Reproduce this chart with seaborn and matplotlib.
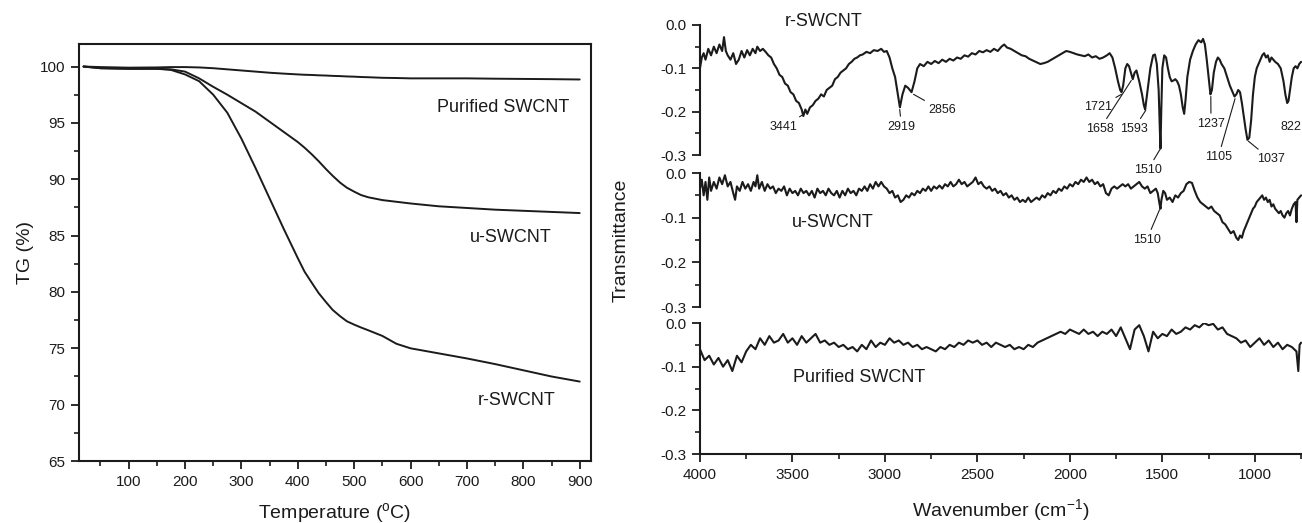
"""TGA curves (left) and stacked FTIR spectra (right) for the SWCNT samples."""
import matplotlib

matplotlib.use("Agg")

import matplotlib.pyplot as plt  # noqa: E402
import seaborn as sns  # noqa: E402
from matplotlib.ticker import FormatStrFormatter, MultipleLocator  # noqa: E402

# ---------------------------------------------------------------------------
# TGA data
# ---------------------------------------------------------------------------
temp_c = [20, 50, 100, 150, 175, 200, 225, 250, 275, 300, 325, 350, 375, 400,
          412, 425, 437, 450, 462, 475, 487, 500, 512, 525, 550, 575, 600,
          650, 700, 750, 800, 850, 900]
tg_purified = [100.0, 99.95, 99.9, 99.92, 99.95, 99.95, 99.92, 99.85, 99.75,
               99.65, 99.55, 99.45, 99.37, 99.3, 99.27, 99.25, 99.22, 99.2,
               99.17, 99.15, 99.12, 99.1, 99.07, 99.05, 99.0, 98.98, 98.95,
               98.95, 98.95, 98.92, 98.9, 98.88, 98.85]
tg_u = [100.0, 99.85, 99.8, 99.8, 99.75, 99.55, 98.95, 98.2, 97.5, 96.75,
        96.0, 95.1, 94.2, 93.3, 92.8, 92.2, 91.6, 90.9, 90.3, 89.7, 89.25,
        88.9, 88.6, 88.4, 88.15, 88.0, 87.85, 87.6, 87.45, 87.3, 87.2, 87.1,
        87.0]
tg_r = [100.0, 99.85, 99.8, 99.8, 99.7, 99.3, 98.7, 97.5, 95.9, 93.6, 91.0,
        88.3, 85.6, 83.0, 81.8, 80.8, 79.9, 79.1, 78.4, 77.85, 77.4, 77.1,
        76.85, 76.6, 76.1, 75.4, 75.0, 74.55, 74.1, 73.6, 73.05, 72.5, 72.05]

# ---------------------------------------------------------------------------
# FTIR data
# ---------------------------------------------------------------------------
r_wn = [4000, 3990, 3980, 3970, 3955, 3940, 3925, 3910, 3895, 3880, 3870, 3860,
        3850, 3835, 3820, 3805, 3790, 3775, 3760, 3745, 3730, 3715, 3700, 3690,
        3675, 3660, 3645, 3630, 3615, 3600, 3585, 3570, 3555, 3540, 3525, 3510,
        3495, 3480, 3465, 3450, 3441, 3430, 3420, 3405, 3390, 3375, 3360, 3345,
        3330, 3315, 3300, 3285, 3270, 3255, 3240, 3225, 3210, 3195, 3180, 3165,
        3150, 3135, 3120, 3100, 3080, 3060, 3040, 3020, 3005, 2990, 2975, 2960,
        2945, 2930, 2919, 2905, 2890, 2875, 2856, 2840, 2825, 2810, 2790, 2770,
        2750, 2730, 2710, 2690, 2670, 2650, 2630, 2610, 2590, 2570, 2550, 2530,
        2510, 2490, 2470, 2450, 2430, 2410, 2390, 2370, 2355, 2340, 2320, 2300,
        2280, 2260, 2240, 2220, 2200, 2180, 2160, 2140, 2120, 2100, 2080, 2060,
        2040, 2020, 2000, 1980, 1960, 1940, 1920, 1900, 1880, 1860, 1840, 1820,
        1800, 1785, 1770, 1755, 1740, 1728, 1721, 1712, 1700, 1690, 1680, 1670,
        1660, 1650, 1640, 1625, 1610, 1600, 1593, 1580, 1565, 1550, 1540, 1530,
        1520, 1513, 1510, 1506, 1500, 1490, 1480, 1470, 1460, 1450, 1440, 1430,
        1420, 1410, 1400, 1390, 1382, 1374, 1365, 1350, 1335, 1320, 1305, 1290,
        1280, 1270, 1260, 1250, 1240, 1232, 1222, 1210, 1200, 1190, 1180, 1165,
        1150, 1135, 1120, 1110, 1100, 1090, 1080, 1070, 1060, 1050, 1040, 1030,
        1020, 1010, 1000, 990, 980, 970, 960, 950, 940, 930, 920, 910, 900, 890,
        875, 860, 845, 835, 825, 818, 810, 800, 790, 780, 770, 760, 750]
r_val = [-0.10, -0.075, -0.065, -0.08, -0.055, -0.07, -0.05, -0.065, -0.045,
         -0.06, -0.028, -0.06, -0.07, -0.08, -0.065, -0.09, -0.08, -0.06,
         -0.075, -0.058, -0.07, -0.055, -0.065, -0.05, -0.06, -0.055, -0.062,
         -0.07, -0.075, -0.09, -0.10, -0.115, -0.12, -0.135, -0.14, -0.155,
         -0.16, -0.175, -0.18, -0.195, -0.21, -0.195, -0.205, -0.19, -0.185,
         -0.175, -0.17, -0.16, -0.165, -0.15, -0.145, -0.14, -0.125, -0.12,
         -0.11, -0.105, -0.10, -0.09, -0.085, -0.078, -0.075, -0.07, -0.068,
         -0.062, -0.065, -0.058, -0.06, -0.055, -0.062, -0.06, -0.075, -0.10,
         -0.12, -0.16, -0.19, -0.16, -0.14, -0.145, -0.155, -0.13, -0.10,
         -0.09, -0.095, -0.085, -0.09, -0.083, -0.088, -0.08, -0.085, -0.078,
         -0.082, -0.075, -0.078, -0.07, -0.073, -0.065, -0.068, -0.06, -0.063,
         -0.058, -0.062, -0.055, -0.06, -0.05, -0.045, -0.052, -0.055, -0.06,
         -0.065, -0.07, -0.072, -0.078, -0.082, -0.086, -0.09, -0.088, -0.085,
         -0.08, -0.075, -0.07, -0.065, -0.06, -0.062, -0.065, -0.068, -0.07,
         -0.072, -0.068, -0.075, -0.072, -0.078, -0.075, -0.07, -0.065, -0.075,
         -0.10, -0.13, -0.15, -0.155, -0.14, -0.10, -0.09, -0.095, -0.11,
         -0.125, -0.11, -0.105, -0.13, -0.16, -0.185, -0.195, -0.15, -0.10,
         -0.07, -0.068, -0.09, -0.15, -0.25, -0.285, -0.20, -0.10, -0.07,
         -0.075, -0.10, -0.12, -0.13, -0.128, -0.125, -0.13, -0.14, -0.16,
         -0.19, -0.205, -0.17, -0.12, -0.08, -0.06, -0.045, -0.035, -0.04,
         -0.032, -0.045, -0.08, -0.12, -0.16, -0.15, -0.11, -0.085, -0.075,
         -0.08, -0.09, -0.10, -0.12, -0.14, -0.155, -0.165, -0.16, -0.15,
         -0.155, -0.18, -0.21, -0.24, -0.265, -0.26, -0.22, -0.16, -0.12,
         -0.10, -0.09, -0.08, -0.07, -0.065, -0.075, -0.07, -0.085, -0.075,
         -0.08, -0.085, -0.09, -0.10, -0.13, -0.16, -0.18, -0.175, -0.15,
         -0.12, -0.10, -0.095, -0.10, -0.09, -0.085]

u_wn = [4000, 3990, 3980, 3970, 3960, 3950, 3940, 3925, 3910, 3895, 3880, 3865,
        3850, 3835, 3820, 3810, 3800, 3785, 3770, 3755, 3740, 3725, 3710, 3700,
        3690, 3680, 3665, 3650, 3635, 3620, 3605, 3590, 3575, 3560, 3545, 3530,
        3515, 3500, 3485, 3470, 3455, 3440, 3425, 3410, 3395, 3380, 3365, 3350,
        3335, 3320, 3305, 3290, 3275, 3260, 3245, 3230, 3215, 3200, 3185, 3170,
        3155, 3140, 3125, 3110, 3095, 3080, 3065, 3050, 3035, 3020, 3005, 2990,
        2975, 2960, 2945, 2930, 2915, 2900, 2885, 2870, 2855, 2840, 2825, 2810,
        2795, 2780, 2765, 2750, 2735, 2720, 2705, 2690, 2675, 2660, 2645, 2630,
        2615, 2600, 2585, 2570, 2555, 2540, 2525, 2510, 2495, 2480, 2465, 2450,
        2435, 2420, 2405, 2390, 2375, 2360, 2345, 2330, 2315, 2300, 2285, 2270,
        2255, 2240, 2225, 2210, 2195, 2180, 2165, 2150, 2135, 2120, 2105, 2090,
        2075, 2060, 2045, 2030, 2015, 2000, 1985, 1970, 1955, 1940, 1925, 1910,
        1895, 1880, 1865, 1850, 1835, 1820, 1805, 1790, 1775, 1760, 1745, 1730,
        1715, 1700, 1685, 1670, 1655, 1640, 1625, 1610, 1595, 1580, 1565, 1550,
        1535, 1525, 1515, 1510, 1505, 1495, 1485, 1475, 1460, 1445, 1430, 1415,
        1400, 1385, 1370, 1355, 1340, 1325, 1310, 1295, 1280, 1265, 1250, 1235,
        1220, 1205, 1190, 1175, 1160, 1145, 1130, 1115, 1100, 1090, 1080, 1070,
        1060, 1050, 1040, 1030, 1020, 1010, 1000, 990, 980, 970, 960, 950, 940,
        930, 920, 910, 900, 890, 880, 870, 860, 850, 840, 830, 820, 810, 800,
        790, 780, 775, 770, 760, 750]
u_val = [-0.035, -0.015, -0.05, -0.02, -0.06, -0.01, -0.04, -0.02, -0.035,
         -0.01, -0.025, -0.005, -0.03, -0.02, -0.045, -0.06, -0.03, -0.04,
         -0.02, -0.035, -0.025, -0.04, -0.02, -0.03, -0.005, -0.035, -0.02,
         -0.04, -0.025, -0.035, -0.03, -0.045, -0.035, -0.04, -0.03, -0.05,
         -0.035, -0.045, -0.04, -0.05, -0.035, -0.045, -0.04, -0.05, -0.04,
         -0.055, -0.035, -0.045, -0.04, -0.05, -0.035, -0.045, -0.05, -0.04,
         -0.055, -0.04, -0.05, -0.035, -0.045, -0.04, -0.05, -0.035, -0.04,
         -0.03, -0.04, -0.025, -0.035, -0.02, -0.03, -0.02, -0.03, -0.035,
         -0.045, -0.04, -0.055, -0.05, -0.065, -0.06, -0.05, -0.055, -0.045,
         -0.05, -0.04, -0.045, -0.035, -0.04, -0.03, -0.04, -0.03, -0.035,
         -0.028, -0.035, -0.025, -0.03, -0.02, -0.03, -0.025, -0.015, -0.025,
         -0.02, -0.03, -0.025, -0.02, -0.01, -0.025, -0.02, -0.03, -0.035,
         -0.03, -0.04, -0.035, -0.045, -0.04, -0.05, -0.045, -0.055, -0.05,
         -0.06, -0.055, -0.065, -0.06, -0.065, -0.055, -0.065, -0.06, -0.055,
         -0.06, -0.05, -0.055, -0.045, -0.05, -0.04, -0.045, -0.035, -0.04,
         -0.03, -0.035, -0.025, -0.03, -0.02, -0.025, -0.015, -0.02, -0.01,
         -0.02, -0.015, -0.025, -0.02, -0.03, -0.025, -0.045, -0.05, -0.035,
         -0.03, -0.035, -0.03, -0.025, -0.03, -0.025, -0.035, -0.03, -0.025,
         -0.02, -0.03, -0.035, -0.03, -0.045, -0.04, -0.035, -0.045, -0.07,
         -0.08, -0.06, -0.04, -0.045, -0.06, -0.055, -0.065, -0.05, -0.055,
         -0.045, -0.04, -0.025, -0.02, -0.022, -0.04, -0.055, -0.065, -0.07,
         -0.075, -0.08, -0.075, -0.085, -0.09, -0.095, -0.11, -0.115, -0.125,
         -0.135, -0.13, -0.145, -0.15, -0.14, -0.145, -0.13, -0.12, -0.11,
         -0.10, -0.09, -0.08, -0.075, -0.065, -0.06, -0.055, -0.05, -0.06,
         -0.055, -0.065, -0.06, -0.075, -0.07, -0.08, -0.085, -0.09, -0.085,
         -0.095, -0.10, -0.09, -0.085, -0.095, -0.08, -0.07, -0.065, -0.11,
         -0.06, -0.055, -0.05]

# Purified SWCNT: evenly read every 25 cm-1 down to 775, then the end spike.
p_wn = list(range(4000, 774, -25)) + [765, 758, 750]
p_val = [-0.06, -0.085, -0.075, -0.095, -0.08, -0.10, -0.085, -0.11, -0.075,
         -0.09,
         -0.065, -0.05, -0.06, -0.035, -0.05, -0.03, -0.045, -0.04, -0.025,
         -0.045,
         -0.035, -0.05, -0.03, -0.045, -0.035, -0.025, -0.045, -0.04, -0.05,
         -0.045,
         -0.055, -0.05, -0.06, -0.055, -0.065, -0.05, -0.06, -0.04, -0.055,
         -0.045,
         -0.05, -0.035, -0.045, -0.04, -0.05, -0.045, -0.055, -0.05, -0.06,
         -0.055,
         -0.06, -0.065, -0.055, -0.06, -0.05, -0.055, -0.045, -0.05, -0.04,
         -0.045,
         -0.04, -0.05, -0.045, -0.055, -0.045, -0.05, -0.055, -0.05, -0.06,
         -0.055,
         -0.06, -0.05, -0.055, -0.045, -0.04, -0.035, -0.03, -0.025, -0.02,
         -0.025,
         -0.015, -0.02, -0.025, -0.015, -0.025, -0.02, -0.03, -0.02, -0.025,
         -0.015,
         -0.03, -0.01, -0.035, -0.06, -0.015, -0.005, -0.03, -0.065, -0.02,
         -0.035,
         -0.025, -0.03, -0.015, -0.025, -0.02, -0.01, -0.015, -0.005, -0.01,
         0.0,
         -0.005, -0.002, -0.015, -0.01, -0.025, -0.03, -0.035, -0.045, -0.04,
         -0.055,
         -0.045, -0.035, -0.05, -0.04, -0.055, -0.045, -0.06, -0.05, -0.055,
         -0.065,
         -0.11, -0.05, -0.045]

# Peak labels on the r-SWCNT spectrum: (text, peak wn, peak value, text wn, text value)
r_peaks = [
    ("3441", 3440, -0.206, 3547, -0.235),
    ("2919", 2920, -0.195, 2910, -0.235),
    ("2856", 2845, -0.16, 2690, -0.197),
    ("1721", 1721, -0.16, 1850, -0.19),
    ("1658", 1668, -0.128, 1838, -0.24),
    ("1593", 1590, -0.197, 1655, -0.24),
    ("1510", 1510, -0.285, 1580, -0.335),
    ("1237", 1238, -0.165, 1237, -0.228),
    ("1105", 1107, -0.17, 1198, -0.305),
    ("1037", 1035, -0.268, 915, -0.31),
]

INK = "#1b1b1b"

sns.set_theme(style="ticks")
plt.rcParams["font.family"] = ["Liberation Sans", "DejaVu Sans"]
plt.rcParams["axes.unicode_minus"] = False
plt.rcParams["mathtext.fontset"] = "custom"
plt.rcParams["mathtext.rm"] = "Liberation Sans"
plt.rcParams["mathtext.default"] = "rm"


def style_ticks(ax):
    ax.tick_params(which="major", direction="out", length=6, width=1.3,
                   color=INK, labelcolor=INK, labelsize=11, pad=4)
    ax.tick_params(which="minor", direction="out", length=3.5, width=1.2,
                   color=INK)


fig = plt.figure(figsize=(13.02, 5.23), dpi=100)

# ---------------------------------------------------------------------------
# Left: TGA
# ---------------------------------------------------------------------------
ax_tg = fig.add_axes([0.0607, 0.1185, 0.3932, 0.7974])
for vals in (tg_purified, tg_u, tg_r):
    sns.lineplot(x=temp_c, y=vals, ax=ax_tg, color=INK, lw=1.4,
                 estimator=None)
ax_tg.set_xlim(12, 920)
ax_tg.set_ylim(65, 102)
ax_tg.xaxis.set_minor_locator(MultipleLocator(50))
ax_tg.yaxis.set_major_locator(MultipleLocator(5))
ax_tg.yaxis.set_minor_locator(MultipleLocator(2.5))
ax_tg.set_xticks(range(100, 1000, 100))
for side in ax_tg.spines.values():
    side.set_linewidth(1.5)
    side.set_color(INK)
style_ticks(ax_tg)
ax_tg.set_xlabel("Temperature ($^{\\rm o}$C)", fontsize=14, color=INK)
ax_tg.set_ylabel("TG (%)", fontsize=14, color=INK)
ax_tg.xaxis.set_label_coords(0.5, -0.095)
ax_tg.yaxis.set_label_coords(-0.088, 0.5)
ax_tg.text(765, 96.4, "Purified SWCNT", fontsize=13, ha="center",
           va="center", color=INK)
ax_tg.text(778, 84.8, "u-SWCNT", fontsize=13, ha="center", va="center",
           color=INK)
ax_tg.text(788, 70.4, "r-SWCNT", fontsize=13, ha="center", va="center",
           color=INK)

# ---------------------------------------------------------------------------
# Right: stacked FTIR spectra
# ---------------------------------------------------------------------------
x0, w = 0.5376, 0.4624
ax_r = fig.add_axes([x0, 0.7036, w, 0.2486])
ax_u = fig.add_axes([x0, 0.4130, w, 0.2562])
ax_p = fig.add_axes([x0, 0.1319, w, 0.2505])

for ax, wn, vals in ((ax_r, r_wn, r_val), (ax_u, u_wn, u_val),
                     (ax_p, p_wn, p_val)):
    sns.lineplot(x=wn, y=vals, ax=ax, color=INK, lw=1.5, estimator=None)
    ax.set_xlim(4000, 745)
    ax.set_ylim(-0.3, 0.0)
    ax.set_yticks([0.0, -0.1, -0.2, -0.3])
    ax.yaxis.set_minor_locator(MultipleLocator(0.05))
    ax.yaxis.set_major_formatter(FormatStrFormatter("%.1f"))
    ax.xaxis.set_major_locator(MultipleLocator(500))
    ax.xaxis.set_minor_locator(MultipleLocator(250))
    ax.set_xlabel("")
    ax.set_ylabel("")
    ax.patch.set_alpha(0)
    ax.spines["top"].set_visible(False)
    ax.spines["right"].set_visible(False)
    for side in ("left", "bottom"):
        ax.spines[side].set_linewidth(1.5)
        ax.spines[side].set_color(INK)
    style_ticks(ax)

for ax in (ax_r, ax_u):
    ax.spines["bottom"].set_visible(False)
    ax.tick_params(axis="x", which="both", bottom=False, labelbottom=False)

ax_p.set_xlabel("Wavenumber (cm$^{-1}$)", fontsize=14, color=INK)
ax_p.xaxis.set_label_coords(0.5, -0.33)
fig.text(0.477, 0.54, "Transmittance", rotation=90, fontsize=14,
         ha="center", va="center", color=INK)

ax_r.text(3330, 0.008, "r-SWCNT", fontsize=13, ha="center", va="center",
          color=INK, clip_on=False)
ax_u.text(3282, -0.11, "u-SWCNT", fontsize=13, ha="center", va="center",
          color=INK)
ax_p.text(3142, -0.125, "Purified SWCNT", fontsize=13, ha="center",
          va="center", color=INK)

for label, px, py, tx, ty in r_peaks:
    ax_r.annotate(label, xy=(px, py), xytext=(tx, ty), fontsize=9,
                  ha="center", va="center", color=INK, annotation_clip=False,
                  arrowprops=dict(arrowstyle="-", color=INK, lw=0.8,
                                  shrinkA=1, shrinkB=0))
ax_r.text(805, -0.235, "822", fontsize=9, ha="center", va="center",
          color=INK, clip_on=False)
ax_u.annotate("1510", xy=(1515, -0.082), xytext=(1585, -0.15), fontsize=9,
              ha="center", va="center", color=INK,
              arrowprops=dict(arrowstyle="-", color=INK, lw=0.8, shrinkA=1,
                              shrinkB=0))

fig.savefig("out.png", dpi=100)
